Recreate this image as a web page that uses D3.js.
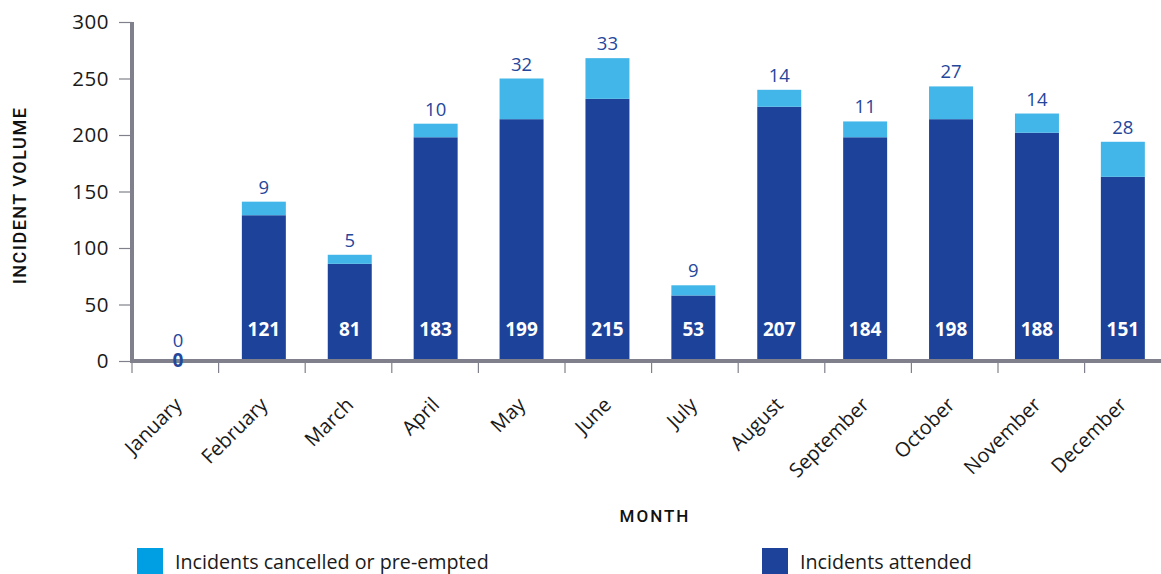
<!DOCTYPE html>
<html>
<head>
<meta charset="utf-8">
<script src="https://cdn.jsdelivr.net/npm/d3@7"></script>
<style>
    body { margin: 0; background: #fff; }
    text { font-family: "Open Sans", sans-serif; }
</style>
</head>
<body>
<div id="chart"></div>
<script>
const dims = {
    width: 1161, height: 574,
    left: 132, right: 0, top: 22, bottom: 361
}

const months = ["January", "February", "March", "April", "May", "June",
    "July", "August", "September", "October", "November", "December"];

// printed labels
const attended = [0, 121, 81, 183, 199, 215, 53, 207, 184, 198, 188, 151];
const cancelled = [0, 9, 5, 10, 32, 33, 9, 14, 11, 27, 14, 28];

// bar heights as drawn in the original (they don't match the labels)
const attendedBar = [0, 129, 86, 198, 214, 232, 58, 225, 198, 214, 202, 163];
const cancelledBar = [0, 12, 8, 12, 36, 36, 9, 15, 14, 29, 17, 31];

const yTicks = [0, 50, 100, 150, 200, 250, 300];

let [dark, light, lightKey, axisGrey] = ["#1d4299", "#42b6e8", "#009fe3", "#80808c"];

const svg = d3.select("#chart")
    .append("svg")
    .attr("width", dims.width)
    .attr("height", dims.height);

const x = d3.scaleBand()
    .domain(months)
    .range([dims.left + 3, dims.left + 3 + 12 * 85.9])
    .paddingInner(0.488)
    .paddingOuter(0.244);

const y = d3.scaleLinear()
    .domain([0, 300])
    .range([dims.bottom, dims.top]);

const data = months.map((m, i) => ({
    month: m, att: attendedBar[i], can: cancelledBar[i],
    attLabel: attended[i], canLabel: cancelled[i]
}));

// bars
const bars = svg.append("g").attr("class", "bars");

bars.selectAll(".att")
    .data(data)
    .join("rect")
    .attr("class", "att")
    .attr("x", d => x(d.month))
    .attr("width", x.bandwidth())
    .attr("y", d => y(d.att))
    .attr("height", d => y(0) - y(d.att))
    .style("fill", dark);

bars.selectAll(".can")
    .data(data)
    .join("rect")
    .attr("class", "can")
    .attr("x", d => x(d.month))
    .attr("width", x.bandwidth())
    .attr("y", d => y(d.att + d.can))
    .attr("height", d => y(d.att) - y(d.att + d.can))
    .style("fill", light);

// y axis
const yAxis = svg.append("g")
    .attr("transform", `translate(${dims.left},0)`)
    .call(d3.axisLeft(y).tickValues(yTicks).tickSize(13).tickPadding(10));

yAxis.select(".domain").remove();
yAxis.selectAll(".tick line").style("stroke", axisGrey).style("stroke-width", 1.2);
yAxis.selectAll(".tick text")
    .style("font-size", "20.5px")
    .style("letter-spacing", "0.5px")
    .style("fill", "#1a1a1a")
    .style("font-family", "'Open Sans', sans-serif");

svg.append("line")
    .attr("x1", dims.left).attr("x2", dims.left)
    .attr("y1", y(300)).attr("y2", y(0) + 2)
    .style("stroke", axisGrey).style("stroke-width", 4);

// x axis
svg.append("line")
    .attr("x1", dims.left - 2).attr("x2", dims.width)
    .attr("y1", y(0)).attr("y2", y(0))
    .style("stroke", axisGrey).style("stroke-width", 4);

svg.append("g")
    .selectAll("line")
    .data(d3.range(12))
    .join("line")
    .attr("x1", i => dims.left + i * 86.6)
    .attr("x2", i => dims.left + i * 86.6)
    .attr("y1", y(0) + 2).attr("y2", y(0) + 12)
    .style("stroke", axisGrey).style("stroke-width", 1.2);

svg.append("g")
    .selectAll("text")
    .data(months)
    .join("text")
    .attr("transform", m => `translate(${x(m) + x.bandwidth() / 2 - 5},${y(0) + 35}) rotate(-45)`)
    .attr("dy", "0.71em")
    .style("text-anchor", "end")
    .style("font-size", "20px")
    .style("fill", "#1a1a1a")
    .text(m => m);

// value labels
svg.append("g")
    .selectAll("text")
    .data(data)
    .join("text")
    .attr("x", d => x(d.month) + x.bandwidth() / 2)
    .attr("y", d => y(d.att + d.can) - (d.att + d.can > 0 ? 8 : 14))
    .style("text-anchor", "middle")
    .style("font-size", "18.5px")
    .style("fill", "#24479c")
    .text(d => d.canLabel);

svg.append("g")
    .selectAll("text")
    .data(data)
    .join("text")
    .attr("x", d => x(d.month) + x.bandwidth() / 2)
    .attr("y", d => d.att > 30 ? y(0) - 25 : y(0) + 6)
    .style("text-anchor", "middle")
    .style("font-size", "19px")
    .style("font-weight", "bold")
    .style("fill", d => d.att > 30 ? "#fff" : "#24479c")
    .text(d => d.attLabel);

// axis titles
svg.append("text")
    .attr("transform", `translate(26,${(dims.top + dims.bottom) / 2 + 4}) rotate(-90)`)
    .style("text-anchor", "middle")
    .style("font-family", "Roboto, sans-serif")
    .style("font-weight", 500)
    .style("font-size", "18px")
    .style("letter-spacing", "1.5px")
    .style("fill", "#111")
    .text("INCIDENT VOLUME");

svg.append("text")
    .attr("x", 655).attr("y", 522)
    .style("text-anchor", "middle")
    .style("font-family", "Roboto, sans-serif")
    .style("font-weight", 500)
    .style("font-size", "17px")
    .style("letter-spacing", "2px")
    .style("fill", "#111")
    .text("MONTH");

// legend
const legend = [
    {label: "Incidents cancelled or pre-empted", color: lightKey, x: 137},
    {label: "Incidents attended", color: dark, x: 762}
];

const keys = svg.append("g").selectAll("g")
    .data(legend)
    .join("g")
    .attr("transform", d => `translate(${d.x},548)`);

keys.append("rect")
    .attr("width", 26).attr("height", 26)
    .style("fill", d => d.color);

keys.append("text")
    .attr("x", 38).attr("y", 21)
    .style("font-size", "19.7px")
    .style("fill", "#1a1a1a")
    .text(d => d.label);
</script>
</body>
</html>
